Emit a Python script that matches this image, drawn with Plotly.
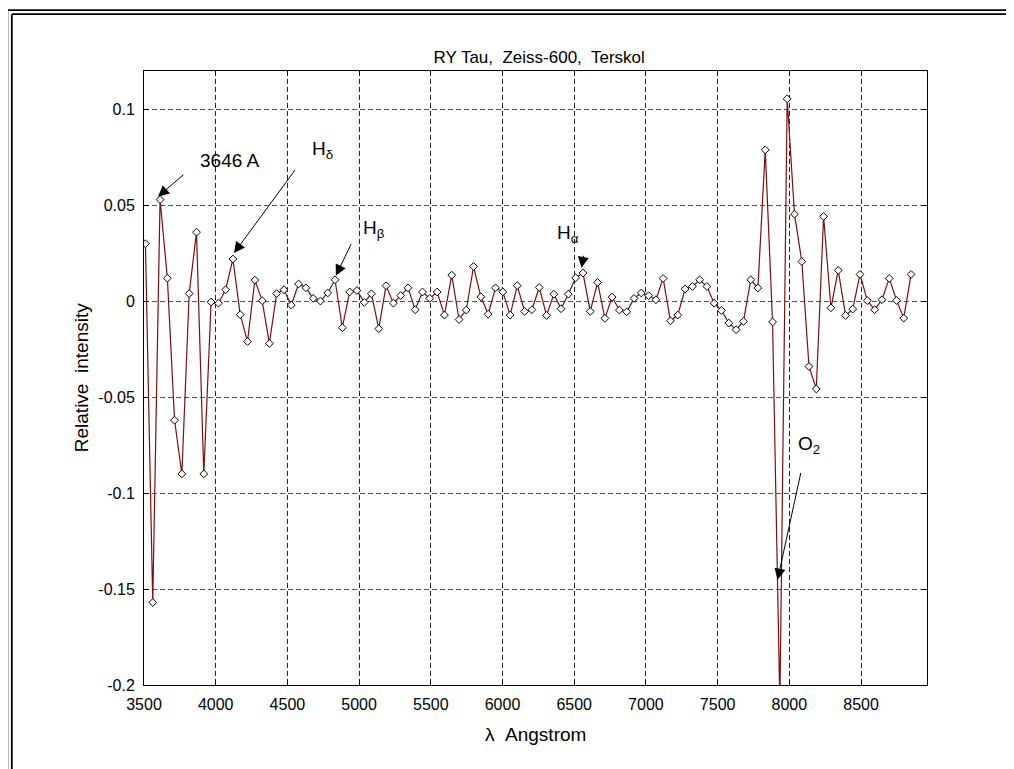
import plotly.graph_objects as go

wavelength = [3510, 3561, 3612, 3663, 3713, 3764, 3815, 3866, 3917, 3968,
              4019, 4069, 4120, 4171, 4222, 4273, 4324, 4374, 4425, 4476,
              4527, 4578, 4629, 4680, 4730, 4781, 4832, 4883, 4934, 4985,
              5036, 5086, 5137, 5188, 5239, 5290, 5341, 5391, 5442, 5493,
              5544, 5595, 5646, 5697, 5747, 5798, 5849, 5900, 5951, 6002,
              6053, 6103, 6154, 6205, 6256, 6307, 6358, 6408, 6459, 6510,
              6561, 6612, 6663, 6714, 6764, 6815, 6866, 6917, 6968, 7019,
              7070, 7120, 7171, 7222, 7273, 7324, 7375, 7425, 7476, 7527,
              7578, 7629, 7680, 7731, 7781, 7832, 7883, 7934, 7985, 8036,
              8087, 8137, 8188, 8239, 8290, 8341, 8392, 8442, 8493, 8544,
              8595, 8646, 8697, 8748, 8798, 8849]

intensity = [0.030, -0.157, 0.053, 0.012, -0.062, -0.090, 0.004, 0.036, -0.090, -0.0004,
             -0.001, 0.006, 0.022, -0.007, -0.021, 0.011, 0.0003, -0.022, 0.004, 0.006,
             -0.002, 0.009, 0.007, 0.0015, 0.0001, 0.0043, 0.0112, -0.0138, 0.0049, 0.0056,
             -0.0006, 0.0039, -0.0143, 0.0081, -0.0010, 0.0030, 0.0070, -0.0044, 0.0048, 0.0015,
             0.0048, -0.0072, 0.0136, -0.0095, -0.0046, 0.0181, 0.0023, -0.0067, 0.0070, 0.0049,
             -0.0072, 0.0081, -0.0053, -0.0044, 0.0072, -0.0074, 0.0037, -0.0039, 0.0037, 0.0122,
             0.0147, -0.0053, 0.0098, -0.0089, 0.0022, -0.0046, -0.0055, 0.0015, 0.0043, 0.0029,
             0.0008, 0.0119, -0.0102, -0.0072, 0.0064, 0.0077, 0.0112, 0.0077, -0.0010, -0.0048,
             -0.0114, -0.0148, -0.0105, 0.0112, 0.0069, 0.0789, -0.0108, -0.210, 0.1055, 0.0454,
             0.0207, -0.0340, -0.0457, 0.0442, -0.0034, 0.0161, -0.0074, -0.0041, 0.0140, 0.0003,
             -0.0044, 0.0008, 0.0119, 0.0004, -0.0088, 0.0140]

x_ticks = [3500, 4000, 4500, 5000, 5500, 6000, 6500, 7000, 7500, 8000, 8500]
y_ticks = [-0.2, -0.15, -0.1, -0.05, 0, 0.05, 0.1]
y_tick_text = ["-0.2", "-0.15", "-0.1", "-0.05", "0", "0.05", "0.1"]

title_text = "RY Tau,&nbsp; Zeiss-600,&nbsp; Terskol"
x_label = "λ&nbsp; Angstrom"
y_label = "Relative&nbsp; intensity"

# annotation labels: (text, x, y) and arrows: (tip x, tip y, tail x, tail y)
labels = [("3646 A", 3875, 0.0732),
          ("H<sub>δ</sub>", 4656, 0.0790),
          ("H<sub>β</sub>", 5010, 0.0375),
          ("H<sub>α</sub>", 6366, 0.0350),
          ("O<sub>2</sub>", 8048, -0.0750)]
arrows = [(3598, 0.0546, 3796, 0.0673),
          (4128, 0.0251, 4575, 0.0706),
          (4838, 0.0133, 4965, 0.0330),
          (6551, 0.0174, 6576, 0.0289),
          (7918, -0.1451, 8095, -0.0843)]

FONT = "Liberation Sans, Arial, Helvetica, sans-serif"

fig = go.Figure()
fig.add_trace(go.Scatter(
    x=wavelength, y=intensity, mode="lines+markers",
    line=dict(color="#7a1010", width=1.2),
    marker=dict(symbol="diamond", size=6, color="white",
                line=dict(color="black", width=1)),
    showlegend=False, hoverinfo="x+y"))

for tx, ty, sx, sy in arrows:
    fig.add_annotation(x=tx, y=ty, ax=sx, ay=sy, xref="x", yref="y",
                       axref="x", ayref="y", text=" ", showarrow=True,
                       arrowhead=2, arrowsize=2.2, arrowwidth=1,
                       arrowcolor="black", standoff=0, startstandoff=0)

for txt, lx, ly in labels:
    fig.add_annotation(x=lx, y=ly, xref="x", yref="y", text=txt,
                       showarrow=False, xanchor="left", yanchor="middle",
                       font=dict(family=FONT, size=19, color="black"))

fig.add_annotation(x=0.5, y=-0.0814, xref="paper", yref="paper", text=x_label,
                   showarrow=False, xanchor="center", yanchor="middle",
                   font=dict(family=FONT, size=19, color="black"))
fig.add_annotation(x=-0.0802, y=0.5, xref="paper", yref="paper", text=y_label,
                   showarrow=False, xanchor="center", yanchor="middle",
                   textangle=-90, font=dict(family=FONT, size=19, color="black"))

# window-like double frame (top and left)
for px_, py_ in [(-0.1745, 1.099), (-0.1688, 1.0925)]:
    fig.add_shape(type="line", xref="paper", yref="paper", x0=px_, y0=py_,
                  x1=1.2, y1=py_, line=dict(color="black", width=1.8))
    fig.add_shape(type="line", xref="paper", yref="paper", x0=px_, y0=py_,
                  x1=px_, y1=-0.2, line=dict(color="black", width=1.8))

axis_common = dict(showline=True, linecolor="black", linewidth=1, mirror="ticks",
                   ticks="inside", ticklen=5, tickcolor="black", showgrid=True,
                   gridwidth=1, griddash="5px,3px", zeroline=False,
                   tickfont=dict(family=FONT, size=16, color="black"),
                   ticklabelstandoff=5)

fig.update_xaxes(range=[3500, 8960], tickvals=x_ticks, gridcolor="#222",
                 **axis_common)
fig.update_yaxes(range=[-0.2, 0.12], tickvals=y_ticks, ticktext=y_tick_text,
                 gridcolor="#555", **axis_common)

# the page body adds an 8px offset, so the figure is drawn 8px smaller
fig.update_layout(
    width=1006, height=761,
    margin=dict(l=136, r=87, t=63, b=84),
    paper_bgcolor="white", plot_bgcolor="white",
    title=dict(text=title_text, x=0.528, xanchor="center", y=0.936,
               yanchor="middle", font=dict(family=FONT, size=17, color="black")),
)

fig.write_html("out.html")
